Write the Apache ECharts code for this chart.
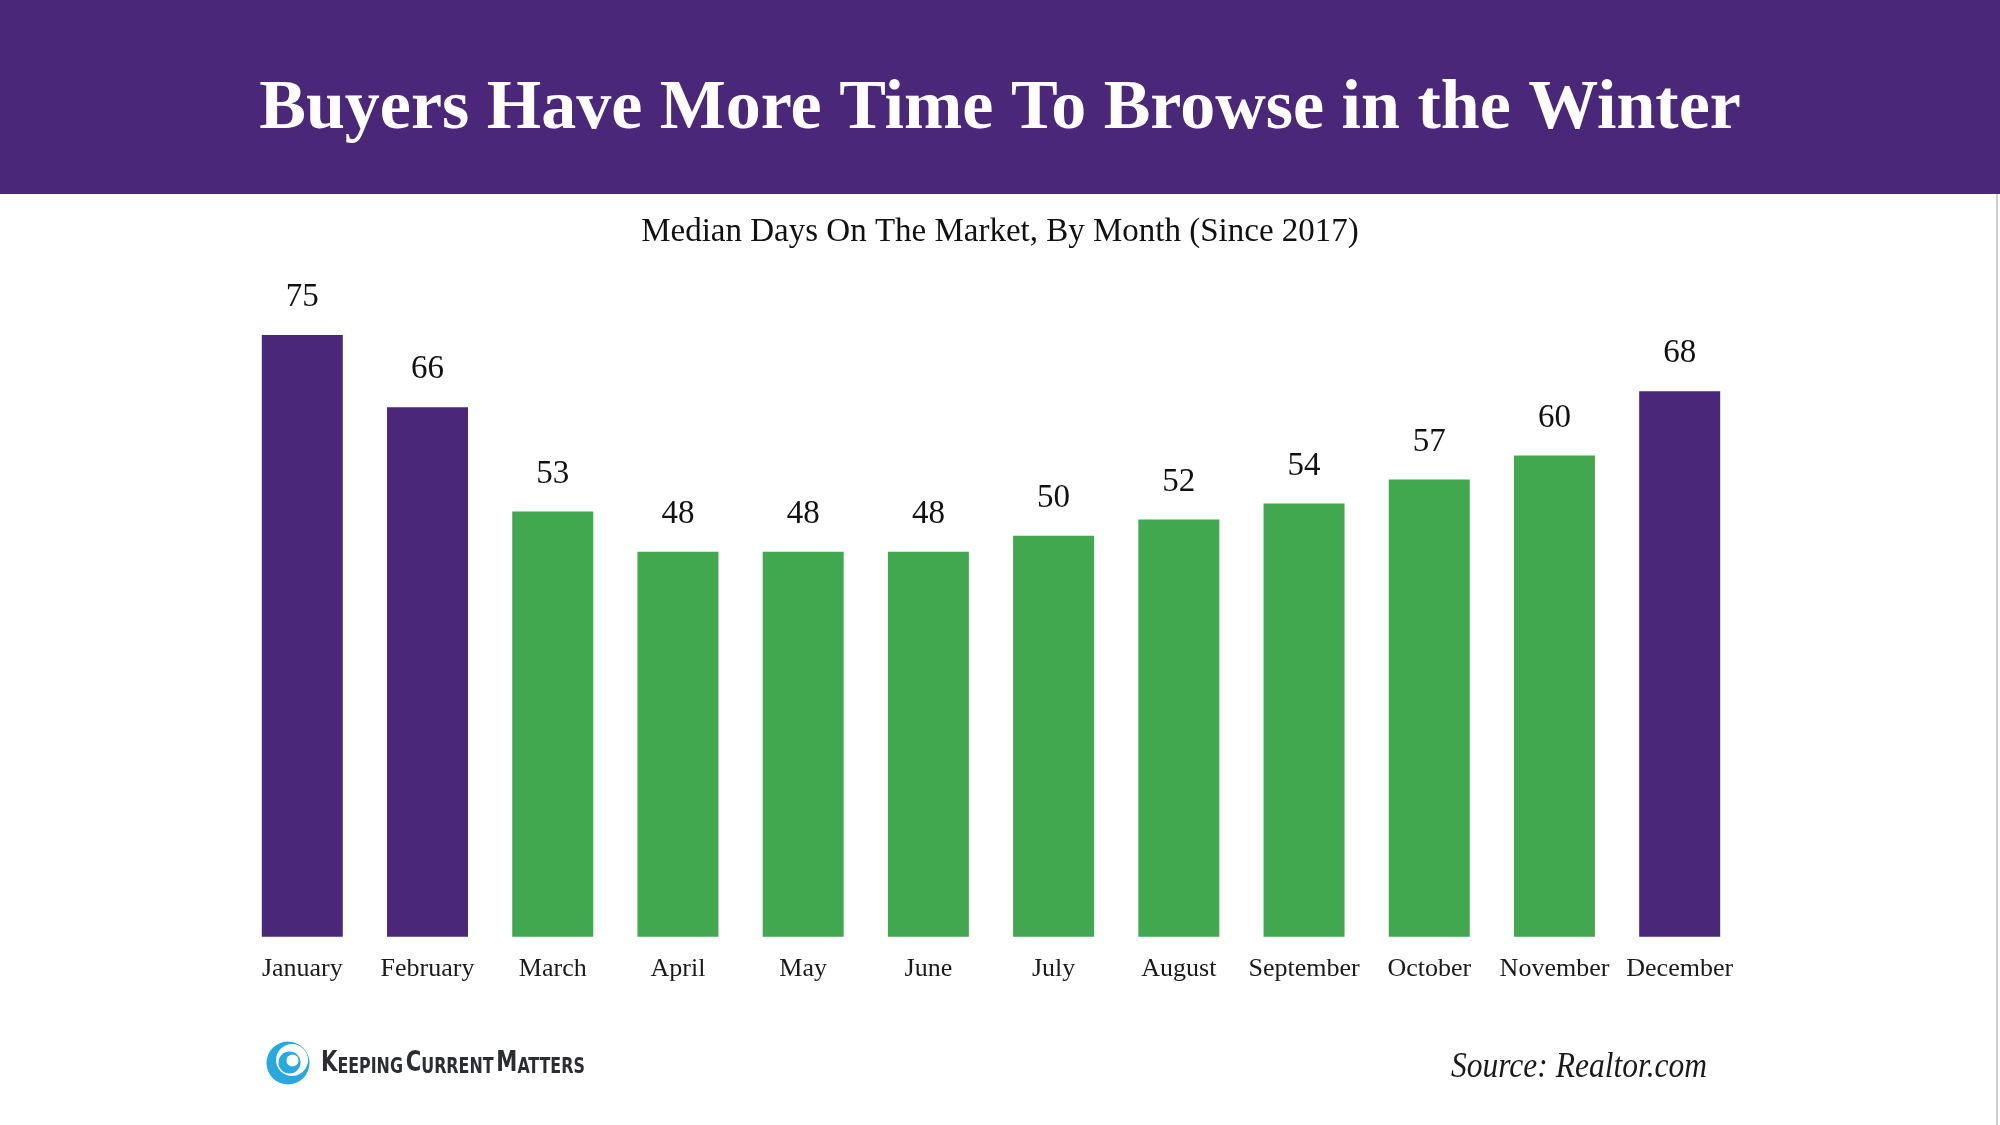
<!DOCTYPE html>
<html>
<head>
<meta charset="utf-8">
<script src="https://cdn.jsdelivr.net/npm/echarts@6/dist/echarts.min.js"></script>
<style>
  html, body { margin: 0; padding: 0; background: #ffffff; }
  #chart { width: 2000px; height: 1125px; }
</style>
</head>
<body>
<div id="chart"></div>
<script>
const titleText = 'Buyers Have More Time To Browse in the Winter';
const subtitleText = 'Median Days On The Market, By Month (Since 2017)';
const months = ['January', 'February', 'March', 'April', 'May', 'June', 'July', 'August', 'September', 'October', 'November', 'December'];
const medianDays = [75, 66, 53, 48, 48, 48, 50, 52, 54, 57, 60, 68];
const winterMonths = ['January', 'February', 'December'];
const sourceText = 'Source: Realtor.com';

const PURPLE = '#4b2779';
const GREEN = '#42a84f';
const SERIF = "'Liberation Serif', 'DejaVu Serif', serif";
const LOGO_FONT = "'Liberation Sans Narrow', 'DejaVu Sans Condensed', sans-serif";

const chart = echarts.init(document.getElementById('chart'));

const barData = months.map((m, i) => ({
  value: medianDays[i],
  itemStyle: { color: winterMonths.includes(m) ? PURPLE : GREEN }
}));

chart.setOption({
  backgroundColor: '#ffffff',
  animation: false,
  title: [
    {
      text: titleText,
      left: 'center',
      top: 75,
      padding: 0,
      textStyle: { color: '#ffffff', fontFamily: SERIF, fontWeight: 'bold', fontSize: 70, lineHeight: 70 }
    },
    {
      text: subtitleText,
      left: 'center',
      top: 216,
      padding: 0,
      textStyle: { color: '#111111', fontFamily: SERIF, fontWeight: 'normal', fontSize: 33, lineHeight: 33 }
    }
  ],
  grid: { left: 239.7, right: 257.7, top: 295, bottom: 188.3, containLabel: false },
  xAxis: {
    type: 'category',
    data: months,
    axisLine: { show: false },
    axisTick: { show: false },
    splitLine: { show: false },
    axisLabel: { color: '#1a1a1a', fontFamily: SERIF, fontSize: 26, lineHeight: 26, margin: 19, interval: 0 }
  },
  yAxis: {
    type: 'value',
    min: 0,
    max: 80,
    show: false,
    splitLine: { show: false }
  },
  series: [{
    type: 'bar',
    data: barData,
    barWidth: 81,
    label: {
      show: true,
      position: 'top',
      distance: 21,
      color: '#111111',
      fontFamily: SERIF,
      fontSize: 33,
      lineHeight: 33
    }
  }],
  graphic: [
    { type: 'rect', z: -10, shape: { x: 0, y: 0, width: 2000, height: 194 }, style: { fill: PURPLE } },
    { type: 'line', shape: { x1: 1997, y1: 194, x2: 1997, y2: 1125 }, style: { stroke: '#d0d0d0', lineWidth: 2 } },
    { type: 'circle', shape: { cx: 288, cy: 1063, r: 21.5 }, style: { fill: '#29a8e0' } },
    { type: 'circle', shape: { cx: 292, cy: 1060, r: 16 }, style: { fill: '#ffffff' } },
    { type: 'circle', shape: { cx: 289.5, cy: 1062.5, r: 11 }, style: { fill: '#29a8e0' } },
    { type: 'circle', shape: { cx: 292.5, cy: 1060.5, r: 6 }, style: { fill: '#ffffff' } },
    {
      type: 'text',
      x: 321, y: 1064,
      scaleX: 0.84,
      style: {
        text: '{b|K}{s|EEPING} {b|C}{s|URRENT} {b|M}{s|ATTERS}',
        verticalAlign: 'middle',
        align: 'left',
        rich: {
          b: { fontFamily: LOGO_FONT, fontSize: 28, fill: '#2b2d33', fontWeight: 'bold', verticalAlign: 'bottom' },
          s: { fontFamily: LOGO_FONT, fontSize: 21, fill: '#2b2d33', fontWeight: 'bold', verticalAlign: 'bottom' }
        }
      }
    },
    {
      type: 'text',
      x: 1707, y: 1068,
      scaleX: 0.9,
      style: {
        text: sourceText,
        align: 'right',
        verticalAlign: 'middle',
        fontFamily: SERIF,
        fontStyle: 'italic',
        fontSize: 35,
        fill: '#1a1a1a'
      }
    }
  ]
});
</script>
</body>
</html>
